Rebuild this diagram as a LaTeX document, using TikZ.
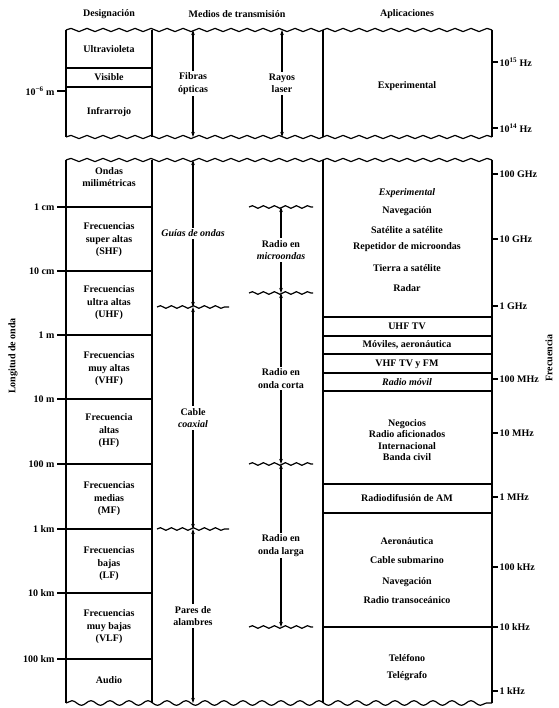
\documentclass[tikz,border=0pt]{standalone}
\usepackage{fontspec}
\setmainfont{Liberation Serif}
\usetikzlibrary{arrows.meta,decorations.pathmorphing}

\tikzset{
  onda/.style={decorate,decoration={snake,segment length=16pt,amplitude=1.6pt}},
  ondafin/.style={decorate,decoration={snake,segment length=19pt,amplitude=2.3pt}},
  corte/.style={decorate,decoration={snake,segment length=11pt,amplitude=1.3pt}},
  medio/.style={{Stealth[length=5pt,width=3.5pt]}-{Stealth[length=5pt,width=3.5pt]}},
  txt/.style={font=\fontsize{10}{12.5}\selectfont\bfseries,align=center,inner sep=1pt},
  hueco/.style={txt,fill=white,inner sep=2pt},
}

\begin{document}
\begin{tikzpicture}[x=1pt,y=-1pt,line width=1.2pt]
  \useasboundingbox (0,0) rectangle (558,708);
  % encabezados
  \node[txt] (hdes) at (109,14) {Designación};
  \node[txt] (hmed) at (237,14) {Medios de transmisión};
  \node[txt] (hapl) at (407,14) {Aplicaciones};
  \node[txt,rotate=90] (lon) at (13,356) {Longitud de onda};
  \node[txt,rotate=90] (fre) at (549,358) {Frecuencia};

  % bloque superior
  \draw[onda] (66,30) -- (492,30);
  \draw[onda] (66,137) -- (492,137);
  \foreach \x in {66,152,323,492}
    \draw (\x,30) -- (\x,137);
  \draw (66,68) -- (152,68);
  \draw (66,87) -- (152,87);
  \node[txt] (uv) at (109,49) {Ultravioleta};
  \node[txt] (vis) at (109,77.5) {Visible};
  \node[txt] (ir) at (109,112) {Infrarrojo};
  \node[txt] (exp1) at (407,86) {Experimental};
  \draw (57,91) -- (66,91);
  \node[txt,anchor=east] (micra) at (56,91) {10\textsuperscript{−6} m};

  % bloque inferior
  \draw[onda] (66,160) -- (492,160);
  \draw[ondafin] (66,703) -- (492,703);
  \foreach \x in {66,152,323,492}
    \draw (\x,160) -- (\x,703);

  % longitudes de onda
  \foreach \y/\lab [count=\i] in {207/{1 cm}, 271/{10 cm}, 335/{1 m}, 399/{10 m},
      464/{100 m}, 529/{1 km}, 593/{10 km}, 659/{100 km}}{
    \draw (57,\y) -- (152,\y);
    \node[txt,anchor=east] (lg\i) at (56,\y) {\lab};
  }

  % frecuencias
  \foreach \y/\lab [count=\i] in {62/{10\textsuperscript{15} Hz}, 128/{10\textsuperscript{14} Hz},
      174/{100 GHz}, 239/{10 GHz}, 306/{1 GHz}, 379/{100 MHz}, 433/{10 MHz},
      497/{1 MHz}, 567/{100 kHz}, 627/{10 kHz}, 691/{1 kHz}}{
    \draw (492,\y) -- (498,\y);
    \node[txt,anchor=west] (fq\i) at (498,\y) {\lab};
  }

  % designaciones
  \foreach \y/\lab [count=\i] in {177/{Ondas\\milimétricas},
      240/{Frecuencias\\super altas\\(SHF)}, 303/{Frecuencias\\ultra altas\\(UHF)},
      369/{Frecuencias\\muy altas\\(VHF)}, 431/{Frecuencia\\altas\\(HF)},
      499/{Frecuencias\\medias\\(MF)}, 564/{Frecuencias\\bajas\\(LF)},
      627/{Frecuencias\\muy bajas\\(VLF)}, 680/{Audio}}
    \node[txt] (ds\i) at (109,\y) {\lab};

  % aplicaciones
  \foreach \y in {317,336,354,373,391,484,513,627}
    \draw (323,\y) -- (492,\y);
  \node[txt] (ap1) at (407,193) {\itshape Experimental};
  \node[txt] (ap2) at (407,211) {Navegación};
  \node[txt] (ap3) at (407,230) {Satélite a satélite};
  \node[txt] (ap4) at (407,247) {Repetidor de microondas};
  \node[txt] (ap5) at (407,268) {Tierra a satélite};
  \node[txt] (ap6) at (407,288) {Radar};
  \node[txt] (ap7) at (407,326.5) {UHF TV};
  \node[txt] (ap8) at (407,345) {Móviles, aeronáutica};
  \node[txt] (ap9) at (407,364) {VHF TV y FM};
  \node[txt] (ap10) at (407,382) {\itshape Radio móvil};
  \node[txt,font=\fontsize{10}{11.5}\selectfont\bfseries] (ap11) at (407,440)
    {Negocios\\Radio aficionados\\Internacional\\Banda civil};
  \node[txt] (ap12) at (407,498.5) {Radiodifusión de AM};
  \node[txt] (ap13) at (407,541) {Aeronáutica};
  \node[txt] (ap14) at (407,560) {Cable submarino};
  \node[txt] (ap15) at (407,582) {Navegación};
  \node[txt] (ap16) at (407,600) {Radio transoceánico};
  \node[txt] (ap17) at (407,658) {Teléfono};
  \node[txt] (ap18) at (407,676) {Telégrafo};

  % medios de transmision
  \coordinate (fo1) at (193,30);  \coordinate (fo2) at (193,137);
  \coordinate (rl1) at (282,30);  \coordinate (rl2) at (282,137);
  \coordinate (g0) at (193,160);  \coordinate (g1) at (193,307);
  \coordinate (g2) at (193,529);  \coordinate (g3) at (193,703);
  \coordinate (r0) at (281,207);  \coordinate (r1) at (281,293);
  \coordinate (r2) at (281,464);  \coordinate (r3) at (281,627);
  \draw[corte] (157,307) -- (229,307);
  \draw[corte] (157,529) -- (229,529);
  \foreach \y in {207,293,464,627}
    \draw[corte] (249,\y) -- (313,\y);
  \draw[medio] (fo1) -- node[hueco] (fibras) {Fibras\\ópticas} (fo2);
  \draw[medio] (rl1) -- node[hueco] (laser) {Rayos\\laser} (rl2);
  \draw[medio] (g0) -- node[hueco] (guias) {\itshape Guías de ondas} (g1);
  \draw[medio] (g1) -- node[hueco] (coax) {Cable\\\textit{coaxial}} (g2);
  \draw[medio] (g2) -- node[hueco] (pares) {Pares de\\alambres} (g3);
  \draw[medio] (r0) -- node[hueco] (micro) {Radio en\\\textit{microondas}} (r1);
  \draw[medio] (r1) -- node[hueco] (corta) {Radio en\\onda corta} (r2);
  \draw[medio] (r2) -- node[hueco] (larga) {Radio en\\onda larga} (r3);
\end{tikzpicture}
\end{document}
